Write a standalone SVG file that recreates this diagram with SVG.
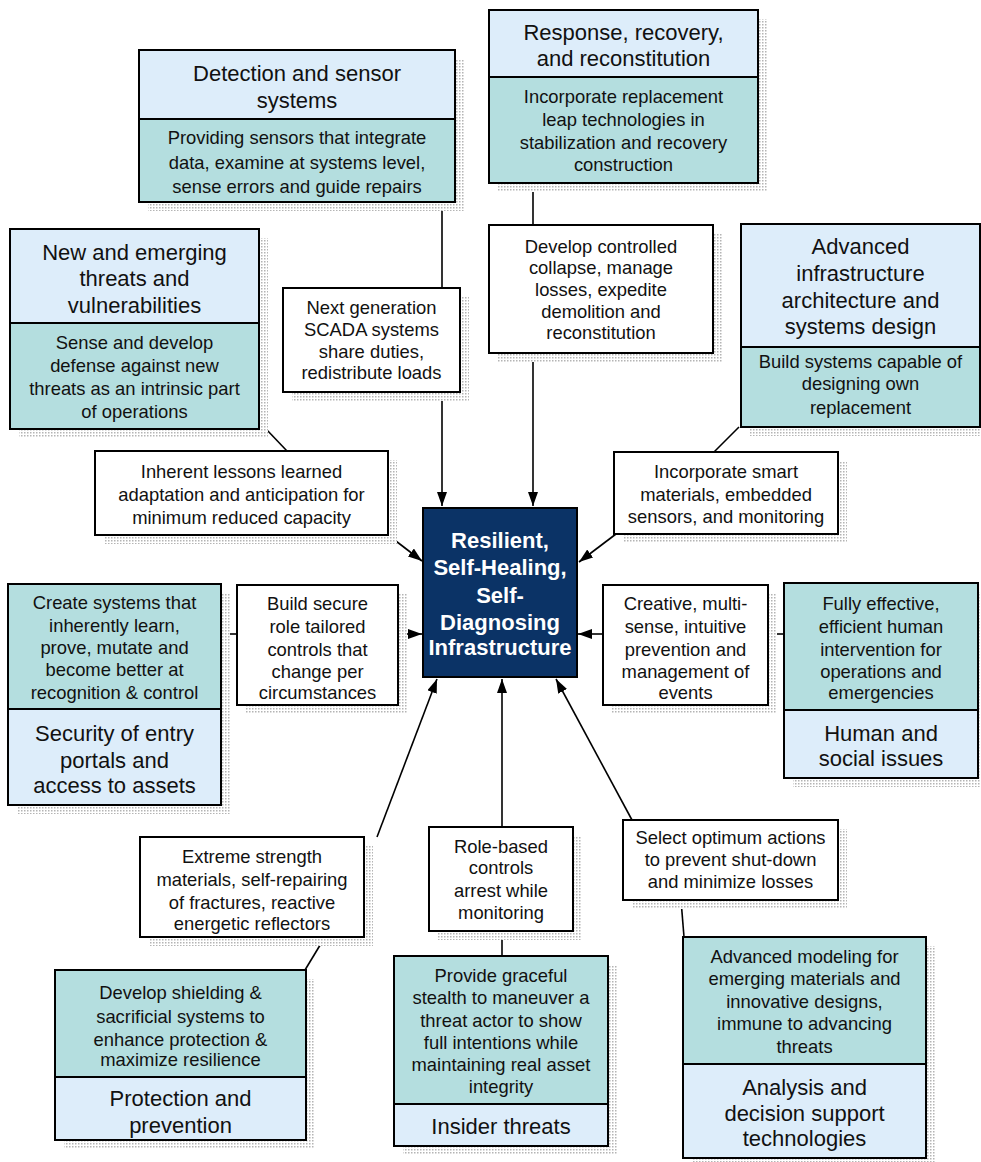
<svg xmlns="http://www.w3.org/2000/svg" width="981" height="1162" viewBox="0 0 981 1162">
<defs>
<pattern id="dots" width="3" height="3" patternUnits="userSpaceOnUse"><rect width="3" height="3" fill="#fff"/><rect width="1.5" height="1.5" fill="#b4b4b4"/></pattern>
<marker id="ah" viewBox="0 0 14 10" refX="14" refY="5" markerWidth="14" markerHeight="10" markerUnits="userSpaceOnUse" orient="auto"><path d="M0,0 L14,5 L0,10 Z" fill="#000"/></marker>
<style>
.sh{fill:url(#dots);}
.lt{fill:#ddedfa;stroke:#000;stroke-width:2;}
.tl{fill:#b4dedf;stroke:#000;stroke-width:2;}
.wh{fill:#fff;stroke:#000;stroke-width:2;}
.hd{font-family:"Liberation Sans",Arial,sans-serif;font-size:22px;fill:#111;text-anchor:middle;}
.bd{font-family:"Liberation Sans",Arial,sans-serif;font-size:18.4px;fill:#111;text-anchor:middle;}
.ct{font-family:"Liberation Sans",Arial,sans-serif;font-size:22px;font-weight:bold;fill:#fff;text-anchor:middle;}
.cn{stroke:#000;stroke-width:1.6;fill:none;}
.ar{stroke:#000;stroke-width:1.6;fill:none;marker-end:url(#ah);}
</style>
</defs>
<rect width="981" height="1162" fill="#fff"/>

<g id="connectors">
<line class="cn" x1="442" y1="202" x2="442" y2="288"/>
<line class="ar" x1="442" y1="392" x2="442" y2="506"/>
<line class="cn" x1="533" y1="183" x2="533" y2="225"/>
<line class="ar" x1="533" y1="353" x2="533" y2="506"/>
<line class="cn" x1="266" y1="429" x2="287" y2="451"/>
<line class="ar" x1="388" y1="535" x2="422" y2="561"/>
<line class="cn" x1="739" y1="427" x2="714" y2="452"/>
<line class="ar" x1="616" y1="534" x2="579" y2="562"/>
<line class="cn" x1="221" y1="634" x2="237" y2="634"/>
<line class="ar" x1="398" y1="634" x2="422" y2="634"/>
<line class="cn" x1="768" y1="634" x2="784" y2="634"/>
<line class="ar" x1="603" y1="634" x2="578" y2="634"/>
<line class="ar" x1="377" y1="837" x2="437" y2="679"/>
<line class="cn" x1="325" y1="937" x2="305" y2="970"/>
<line class="ar" x1="502" y1="827" x2="502" y2="679"/>
<line class="cn" x1="502" y1="931" x2="502" y2="956"/>
<line class="ar" x1="632" y1="820" x2="556" y2="679"/>
<line class="cn" x1="681" y1="900" x2="684" y2="937"/>
</g>

<g id="detection">
<rect class="sh" x="148" y="59" width="316" height="152"/>
<rect class="lt" x="139" y="50" width="316" height="69"/>
<rect class="tl" x="139" y="119" width="316" height="83"/>
<text class="hd" x="297" y="81">Detection and sensor</text>
<text class="hd" x="297" y="108">systems</text>
<text class="bd" x="297" y="144">Providing sensors that integrate</text>
<text class="bd" x="297" y="169">data, examine at systems level,</text>
<text class="bd" x="297" y="193">sense errors and guide repairs</text>
</g>

<g id="response">
<rect class="sh" x="498" y="19" width="269" height="173"/>
<rect class="lt" x="489" y="10" width="269" height="67"/>
<rect class="tl" x="489" y="77" width="269" height="106"/>
<text class="hd" x="623.5" y="40">Response, recovery,</text>
<text class="hd" x="623.5" y="66">and reconstitution</text>
<text class="bd" x="623.5" y="103">Incorporate replacement</text>
<text class="bd" x="623.5" y="126">leap technologies in</text>
<text class="bd" x="623.5" y="149">stabilization and recovery</text>
<text class="bd" x="623.5" y="171">construction</text>
</g>

<g id="new-threats">
<rect class="sh" x="19" y="238" width="249" height="200"/>
<rect class="lt" x="10" y="229" width="249" height="94"/>
<rect class="tl" x="10" y="323" width="249" height="106"/>
<text class="hd" x="134.5" y="260">New and emerging</text>
<text class="hd" x="134.5" y="286">threats and</text>
<text class="hd" x="134.5" y="313">vulnerabilities</text>
<text class="bd" x="134.5" y="349">Sense and develop</text>
<text class="bd" x="134.5" y="372">defense against new</text>
<text class="bd" x="134.5" y="395">threats as an intrinsic part</text>
<text class="bd" x="134.5" y="418">of operations</text>
</g>

<g id="next-gen">
<rect class="sh" x="292" y="297" width="177" height="104"/>
<rect class="wh" x="283" y="288" width="177" height="104"/>
<text class="bd" x="371.5" y="314">Next generation</text>
<text class="bd" x="371.5" y="336">SCADA systems</text>
<text class="bd" x="371.5" y="358">share duties,</text>
<text class="bd" x="371.5" y="379">redistribute loads</text>
</g>

<g id="develop-collapse">
<rect class="sh" x="498" y="234" width="224" height="128"/>
<rect class="wh" x="489" y="225" width="224" height="128"/>
<text class="bd" x="601" y="253">Develop controlled</text>
<text class="bd" x="601" y="274">collapse, manage</text>
<text class="bd" x="601" y="296">losses, expedite</text>
<text class="bd" x="601" y="318">demolition and</text>
<text class="bd" x="601" y="339">reconstitution</text>
</g>

<g id="advanced-infra">
<rect class="sh" x="750" y="233" width="231" height="203"/>
<rect class="lt" x="741" y="224" width="239" height="123"/>
<rect class="tl" x="741" y="347" width="239" height="80"/>
<text class="hd" x="860.5" y="254">Advanced</text>
<text class="hd" x="860.5" y="281">infrastructure</text>
<text class="hd" x="860.5" y="308">architecture and</text>
<text class="hd" x="860.5" y="334">systems design</text>
<text class="bd" x="860.5" y="368">Build systems capable of</text>
<text class="bd" x="860.5" y="390">designing own</text>
<text class="bd" x="860.5" y="414">replacement</text>
</g>

<g id="inherent">
<rect class="sh" x="104" y="460" width="293" height="84"/>
<rect class="wh" x="95" y="451" width="293" height="84"/>
<text class="bd" x="241.5" y="478">Inherent lessons learned</text>
<text class="bd" x="241.5" y="501">adaptation and anticipation for</text>
<text class="bd" x="241.5" y="524">minimum reduced capacity</text>
</g>

<g id="incorporate-smart">
<rect class="sh" x="623" y="461" width="224" height="82"/>
<rect class="wh" x="614" y="452" width="224" height="82"/>
<text class="bd" x="726" y="478">Incorporate smart</text>
<text class="bd" x="726" y="501">materials, embedded</text>
<text class="bd" x="726" y="523">sensors, and monitoring</text>
</g>

<g id="center">
<rect x="423" y="508" width="154" height="169" fill="#0b3366" stroke="#000" stroke-width="2"/>
<text class="ct" x="500" y="548">Resilient,</text>
<text class="ct" x="500" y="575">Self-Healing,</text>
<text class="ct" x="500" y="603">Self-</text>
<text class="ct" x="500" y="630">Diagnosing</text>
<text class="ct" x="500" y="655">Infrastructure</text>
</g>

<g id="security">
<rect class="sh" x="17" y="593" width="213" height="221"/>
<rect class="tl" x="8" y="584" width="213" height="125"/>
<rect class="lt" x="8" y="709" width="213" height="96"/>
<text class="bd" x="114.5" y="609">Create systems that</text>
<text class="bd" x="114.5" y="632">inherently learn,</text>
<text class="bd" x="114.5" y="654">prove, mutate and</text>
<text class="bd" x="114.5" y="676">become better at</text>
<text class="bd" x="114.5" y="699">recognition &amp; control</text>
<text class="hd" x="114.5" y="741">Security of entry</text>
<text class="hd" x="114.5" y="768">portals and</text>
<text class="hd" x="114.5" y="793">access to assets</text>
</g>

<g id="build-secure">
<rect class="sh" x="246" y="594" width="161" height="120"/>
<rect class="wh" x="237" y="585" width="161" height="120"/>
<text class="bd" x="317.5" y="610">Build secure</text>
<text class="bd" x="317.5" y="633">role tailored</text>
<text class="bd" x="317.5" y="656">controls that</text>
<text class="bd" x="317.5" y="678">change per</text>
<text class="bd" x="317.5" y="699">circumstances</text>
</g>

<g id="creative">
<rect class="sh" x="612" y="594" width="165" height="120"/>
<rect class="wh" x="603" y="585" width="165" height="120"/>
<text class="bd" x="685.5" y="610">Creative, multi-</text>
<text class="bd" x="685.5" y="633">sense, intuitive</text>
<text class="bd" x="685.5" y="656">prevention and</text>
<text class="bd" x="685.5" y="678">management of</text>
<text class="bd" x="685.5" y="699">events</text>
</g>

<g id="human">
<rect class="sh" x="793" y="592" width="188" height="195"/>
<rect class="tl" x="784" y="583" width="194" height="127"/>
<rect class="lt" x="784" y="710" width="194" height="68"/>
<text class="bd" x="881" y="610">Fully effective,</text>
<text class="bd" x="881" y="633">efficient human</text>
<text class="bd" x="881" y="656">intervention for</text>
<text class="bd" x="881" y="678">operations and</text>
<text class="bd" x="881" y="699">emergencies</text>
<text class="hd" x="881" y="741">Human and</text>
<text class="hd" x="881" y="766">social issues</text>
</g>

<g id="extreme">
<rect class="sh" x="149" y="846" width="224" height="100"/>
<rect class="wh" x="140" y="837" width="224" height="100"/>
<text class="bd" x="252" y="863">Extreme strength</text>
<text class="bd" x="252" y="886">materials, self-repairing</text>
<text class="bd" x="252" y="909">of fractures, reactive</text>
<text class="bd" x="252" y="930">energetic reflectors</text>
</g>

<g id="protection">
<rect class="sh" x="64" y="979" width="251" height="170"/>
<rect class="tl" x="55" y="970" width="251" height="107"/>
<rect class="lt" x="55" y="1077" width="251" height="63"/>
<text class="bd" x="180.5" y="999">Develop shielding &amp;</text>
<text class="bd" x="180.5" y="1023">sacrificial systems to</text>
<text class="bd" x="180.5" y="1046">enhance protection &amp;</text>
<text class="bd" x="180.5" y="1066">maximize resilience</text>
<text class="hd" x="180.5" y="1106">Protection and</text>
<text class="hd" x="180.5" y="1133">prevention</text>
</g>

<g id="role-based">
<rect class="sh" x="438" y="836" width="144" height="104"/>
<rect class="wh" x="429" y="827" width="144" height="104"/>
<text class="bd" x="501" y="853">Role-based</text>
<text class="bd" x="501" y="874">controls</text>
<text class="bd" x="501" y="897">arrest while</text>
<text class="bd" x="501" y="919">monitoring</text>
</g>

<g id="insider">
<rect class="sh" x="403" y="965" width="214" height="190"/>
<rect class="tl" x="394" y="956" width="214" height="148"/>
<rect class="lt" x="394" y="1104" width="214" height="42"/>
<text class="bd" x="501" y="982">Provide graceful</text>
<text class="bd" x="501" y="1004">stealth to maneuver a</text>
<text class="bd" x="501" y="1027">threat actor to show</text>
<text class="bd" x="501" y="1049">full intentions while</text>
<text class="bd" x="501" y="1071">maintaining real asset</text>
<text class="bd" x="501" y="1093">integrity</text>
<text class="hd" x="501" y="1134">Insider threats</text>
</g>

<g id="select">
<rect class="sh" x="632" y="829" width="215" height="80"/>
<rect class="wh" x="623" y="820" width="215" height="80"/>
<text class="bd" x="730.5" y="844">Select optimum actions</text>
<text class="bd" x="730.5" y="866">to prevent shut-down</text>
<text class="bd" x="730.5" y="888">and minimize losses</text>
</g>

<g id="analysis">
<rect class="sh" x="692" y="946" width="243" height="216"/>
<rect class="tl" x="683" y="937" width="243" height="127"/>
<rect class="lt" x="683" y="1064" width="243" height="94"/>
<text class="bd" x="804.5" y="963">Advanced modeling for</text>
<text class="bd" x="804.5" y="985">emerging materials and</text>
<text class="bd" x="804.5" y="1008">innovative designs,</text>
<text class="bd" x="804.5" y="1030">immune to advancing</text>
<text class="bd" x="804.5" y="1053">threats</text>
<text class="hd" x="804.5" y="1095">Analysis and</text>
<text class="hd" x="804.5" y="1121">decision support</text>
<text class="hd" x="804.5" y="1146">technologies</text>
</g>
</svg>
